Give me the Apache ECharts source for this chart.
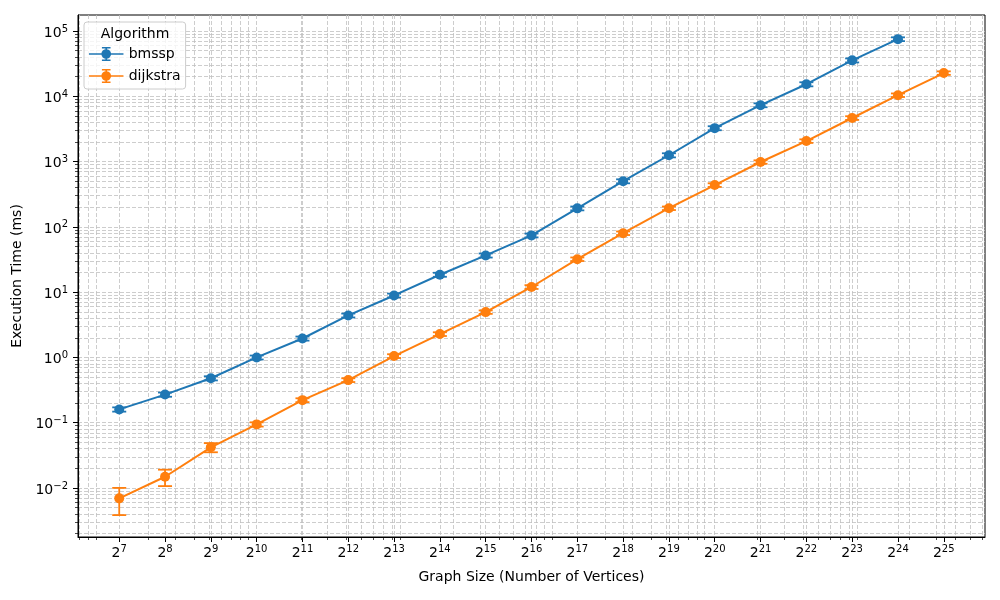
<!DOCTYPE html>
<html>
<head>
<meta charset="utf-8">
<script src="https://cdn.jsdelivr.net/npm/echarts@6/dist/echarts.min.js"></script>
<style>
  html, body { margin: 0; padding: 0; background: #fff; }
  #chart { width: 1000px; height: 600px; }
</style>
</head>
<body>
<div id="chart"></div>
<script>
// graph sizes (number of vertices), 2^7 .. 2^25
const vertexCounts = [128, 256, 512, 1024, 2048, 4096, 8192, 16384, 32768, 65536,
  131072, 262144, 524288, 1048576, 2097152, 4194304, 8388608, 16777216, 33554432];

// execution time in ms (bmssp stops at 2^24)
const bmsspTime = [0.16, 0.27, 0.48, 1.0, 1.95, 4.4, 8.9, 18.5, 36.5, 74, 192, 500,
  1250, 3250, 7300, 15300, 35500, 75000];
const bmsspErr = [0.012, 0.02, 0.035, 0.07, 0.14, 0.3, 0.6, 1.3, 2.6, 5, 13, 35,
  90, 230, 500, 1100, 2500, 5000];

const dijkstraTime = [0.00695, 0.0149, 0.042, 0.0944, 0.222, 0.45, 1.05, 2.28, 4.95, 12.0,
  32, 80, 193, 437, 985, 2060, 4650, 10400, 22700];
const dijkstraErr = [0.0031, 0.0042, 0.0067, 0.007, 0.015, 0.03, 0.07, 0.15, 0.3, 0.8,
  2, 5, 12, 28, 60, 130, 300, 650, 1400];

const yMajorTicks = [0.01, 0.1, 1, 10, 100, 1000, 10000, 100000];

const C_BLUE = '#1f77b4';
const C_ORANGE = '#ff7f0e';
const FONT = 'DejaVu Sans';

const xMin = Math.pow(2, 6.1), xMax = Math.pow(2, 25.9);
const yMin = Math.pow(10, -2.75), yMax = Math.pow(10, 5.245);

// minor ticks like matplotlib's LogLocator: 2..9 x 10^k
function minorTicks(lo, hi, kFrom, kTo) {
  const out = [];
  for (let k = kFrom; k <= kTo; k++) {
    for (let n = 2; n <= 9; n++) {
      const v = parseFloat((n * Math.pow(10, k)).toPrecision(3));
      if (v > lo && v < hi) out.push(v);
    }
  }
  return out;
}
const xMinor = minorTicks(xMin, xMax, 1, 7);
const yMinor = minorTicks(yMin, yMax, -3, 5);

const gridLine = { show: true, lineStyle: { color: '#c0c0c0', width: 0.8, type: [4, 2] } };
const supRich = {
  b: { fontFamily: FONT, fontSize: 14, lineHeight: 18, color: '#000', verticalAlign: 'bottom' },
  s: { fontFamily: FONT, fontSize: 10, lineHeight: 10, color: '#000', verticalAlign: 'bottom', padding: [0, 0, 6, 0] }
};

function pairs(ys) {
  return ys.map((y, i) => [vertexCounts[i], y]);
}
function errPairs(ys, errs) {
  return ys.map((y, i) => [vertexCounts[i], y, errs[i]]);
}

function renderErr(color) {
  return function (params, api) {
    const x = api.value(0), y = api.value(1), e = api.value(2);
    const top = api.coord([x, y + e]);
    const bot = api.coord([x, y - e]);
    const st = { stroke: color, lineWidth: 1.8 };
    return {
      type: 'group',
      children: [
        { type: 'line', shape: { x1: top[0], y1: top[1], x2: bot[0], y2: bot[1] }, style: st },
        { type: 'line', shape: { x1: top[0] - 7, y1: top[1], x2: top[0] + 7, y2: top[1] }, style: st },
        { type: 'line', shape: { x1: bot[0] - 7, y1: bot[1], x2: bot[0] + 7, y2: bot[1] }, style: st }
      ]
    };
  };
}

const errIcon = 'path://M0 6.2H32V7.8H0Z M15.2 1H16.8V13H15.2Z M12 0.5H20V1.9H12Z M12 12.1H20V13.5H12Z M16 2.5A4.5 4.5 0 1 1 15.99 2.5Z';

const chart = echarts.init(document.getElementById('chart'));
chart.setOption({
  animation: false,
  textStyle: { fontFamily: FONT },
  grid: { left: 78, right: 15, top: 15, bottom: 63, show: true, borderColor: '#000', borderWidth: 1 },
  legend: {
    orient: 'vertical',
    left: 84, top: 22,
    padding: [25, 5, 6, 5],
    itemWidth: 35, itemHeight: 14, itemGap: 8,
    backgroundColor: 'rgba(255,255,255,0.8)',
    borderColor: '#cccccc', borderWidth: 1, borderRadius: 3,
    textStyle: { fontFamily: FONT, fontSize: 14, color: '#000' },
    data: [{ name: 'bmssp', icon: errIcon }, { name: 'dijkstra', icon: errIcon }]
  },
  graphic: [{
    type: 'text', x: 135, y: 34, z: 100,
    style: { text: 'Algorithm', fontFamily: FONT, fontSize: 14, fill: '#000', align: 'center', verticalAlign: 'middle' }
  }],
  xAxis: [{
    type: 'log', logBase: 2, min: xMin, max: xMax,
    name: 'Graph Size (Number of Vertices)', nameLocation: 'middle', nameGap: 33,
    nameTextStyle: { fontFamily: FONT, fontSize: 14, color: '#000' },
    axisLine: { lineStyle: { color: '#000', width: 1 } },
    axisTick: { customValues: vertexCounts, length: 5, lineStyle: { color: '#000', width: 1 } },
    axisLabel: {
      customValues: vertexCounts, margin: 5, rich: supRich,
      formatter: v => '{b|2}{s|' + Math.round(Math.log2(v)) + '}'
    },
    splitLine: gridLine
  }, {
    type: 'log', logBase: 10, min: xMin, max: xMax, position: 'bottom',
    axisLine: { show: false },
    axisLabel: { show: false },
    axisTick: { customValues: xMinor, length: 3, lineStyle: { color: '#000', width: 0.7 } },
    splitLine: gridLine
  }],
  yAxis: [{
    type: 'log', logBase: 10, min: yMin, max: yMax,
    name: 'Execution Time (ms)', nameLocation: 'middle', nameGap: 47,
    nameTextStyle: { fontFamily: FONT, fontSize: 14, color: '#000' },
    axisLine: { show: true, lineStyle: { color: '#000', width: 1 } },
    axisTick: { show: true, customValues: yMajorTicks, length: 5, lineStyle: { color: '#000', width: 1 } },
    axisLabel: {
      customValues: yMajorTicks, margin: 10, rich: supRich,
      formatter: v => '{b|10}{s|' + String(Math.round(Math.log10(v))).replace('-', '\u2212') + '}'
    },
    splitLine: gridLine
  }, {
    type: 'log', logBase: 10, min: yMin, max: yMax, position: 'left',
    axisLine: { show: false },
    axisLabel: { show: false },
    axisTick: { show: true, customValues: yMinor, length: 3, lineStyle: { color: '#000', width: 0.7 } },
    splitLine: gridLine
  }],
  series: [{
    name: 'bmssp err', type: 'custom', renderItem: renderErr(C_BLUE),
    data: errPairs(bmsspTime, bmsspErr), encode: { x: 0, y: 1 }, z: 2
  }, {
    name: 'dijkstra err', type: 'custom', renderItem: renderErr(C_ORANGE),
    data: errPairs(dijkstraTime, dijkstraErr), encode: { x: 0, y: 1 }, z: 2
  }, {
    name: 'bmssp', type: 'line', data: pairs(bmsspTime), color: C_BLUE,
    symbol: 'circle', symbolSize: 10, lineStyle: { width: 2 }, z: 3
  }, {
    name: 'dijkstra', type: 'line', data: pairs(dijkstraTime), color: C_ORANGE,
    symbol: 'circle', symbolSize: 10, lineStyle: { width: 2 }, z: 3
  }]
});
</script>
</body>
</html>
